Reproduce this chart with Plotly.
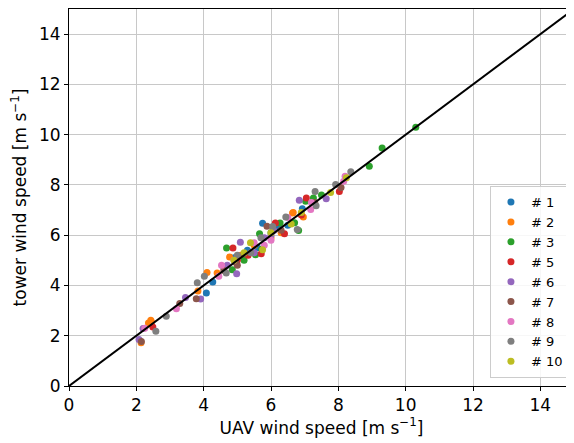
import plotly.graph_objects as go

names = ["# 1", "# 2", "# 3", "# 5", "# 6", "# 7", "# 8", "# 9", "# 10"]
colors = ["#1f77b4", "#ff7f0e", "#2ca02c", "#d62728", "#9467bd",
          "#8c564b", "#e377c2", "#7f7f7f", "#bcbd22"]

x1 = [4.08, 4.27, 4.60, 4.90, 5.30, 5.60, 5.75, 6.20, 6.50, 6.93]
y1 = [3.70, 4.14, 4.70, 5.10, 5.40, 5.50, 6.48, 6.30, 6.40, 7.05]

x2 = [2.14, 2.36, 2.43, 2.45, 3.83, 4.10, 4.40, 4.77, 4.95, 5.10, 5.50, 6.00, 6.30, 6.64, 6.66, 6.96]
y2 = [1.72, 2.51, 2.62, 2.55, 3.78, 4.52, 4.50, 5.13, 5.00, 5.20, 5.60, 5.90, 6.10, 6.88, 6.90, 6.72]

x3 = [10.30, 9.30, 8.92, 7.03, 7.26, 6.82, 5.66, 4.68, 5.54, 4.85, 6.00, 6.70, 5.20, 6.27, 5.73, 7.50]
y3 = [10.30, 9.47, 8.74, 7.35, 7.48, 6.19, 6.06, 5.49, 5.22, 4.63, 6.10, 6.50, 5.00, 6.49, 5.44, 7.60]

x5 = [2.49, 4.87, 5.71, 5.32, 6.13, 6.40, 7.05, 8.03, 5.00, 6.90]
y5 = [2.35, 5.49, 5.26, 5.20, 6.49, 6.06, 7.48, 7.74, 5.00, 6.80]

x6 = [2.08, 2.20, 3.46, 3.91, 4.98, 5.09, 6.08, 6.84, 7.64, 5.50, 4.70, 6.00, 5.80]
y6 = [1.85, 2.29, 3.52, 3.46, 4.47, 5.72, 6.19, 7.39, 7.45, 5.30, 4.80, 6.00, 5.90]

x7 = [2.15, 3.29, 3.78, 4.95, 5.20, 5.88, 8.08, 5.00, 4.60, 6.30, 7.30]
y7 = [1.77, 3.28, 3.47, 4.93, 5.26, 6.36, 7.90, 4.80, 4.60, 6.20, 7.30]

x8 = [2.25, 3.19, 4.45, 4.53, 5.50, 6.00, 7.18, 8.16, 8.20, 7.20, 5.80, 4.90, 6.50]
y8 = [2.30, 3.07, 4.37, 4.80, 5.70, 5.80, 7.02, 8.15, 8.35, 7.30, 5.60, 5.00, 6.70]

x9 = [2.58, 2.89, 3.81, 4.02, 4.67, 5.40, 6.05, 6.44, 6.78, 7.31, 7.34, 7.92, 8.37, 5.70, 5.00]
y9 = [2.18, 2.78, 4.11, 4.37, 4.50, 5.30, 6.35, 6.72, 6.23, 7.74, 7.17, 8.02, 8.52, 5.90, 5.20]

x10 = [5.39, 5.75, 6.60, 7.77, 8.24, 6.00, 5.20, 6.90, 4.90]
y10 = [5.70, 5.42, 6.45, 7.70, 8.29, 6.10, 5.30, 6.90, 5.00]

xs = [x1, x2, x3, x5, x6, x7, x8, x9, x10]
ys = [y1, y2, y3, y5, y6, y7, y8, y9, y10]

one_to_one = [0, 15]
tick_vals = [0, 2, 4, 6, 8, 10, 12, 14]

fig = go.Figure()
for n, c, xv, yv in zip(names, colors, xs, ys):
    fig.add_trace(go.Scatter(x=xv, y=yv, mode="markers", name=n,
                             marker=dict(color=c, size=7, line=dict(width=0))))

fig.add_trace(go.Scatter(x=one_to_one, y=one_to_one, mode="lines",
                         line=dict(color="black", width=2), showlegend=False,
                         hoverinfo="skip"))

axis_common = dict(range=[0, 15], tickvals=tick_vals, showgrid=True,
                   gridcolor="#c8c8c8", gridwidth=1, showline=True,
                   linecolor="black", linewidth=1, mirror=True,
                   ticks="outside", ticklen=4, tickcolor="black",
                   tickfont=dict(size=17, color="black"), zeroline=False,
                   automargin=False)

fig.update_layout(
    width=566, height=435,
    margin=dict(l=61, r=0, t=1, b=57, autoexpand=False),
    paper_bgcolor="white", plot_bgcolor="white",
    font=dict(family="DejaVu Sans", color="black"),
    xaxis=dict(title=dict(text="UAV wind speed [m s<sup>−1</sup>]", font=dict(size=17), standoff=4),
               **axis_common),
    yaxis=dict(title=dict(text="tower wind speed [m s<sup>−1</sup>]", font=dict(size=17), standoff=20),
               **axis_common),
    legend=dict(x=0.99, y=0.021, xanchor="right", yanchor="bottom",
                bgcolor="rgba(255,255,255,0.85)", bordercolor="#cccccc", borderwidth=1,
                font=dict(size=13), itemsizing="trace", tracegroupgap=0),
)

fig.write_html("out.html")
